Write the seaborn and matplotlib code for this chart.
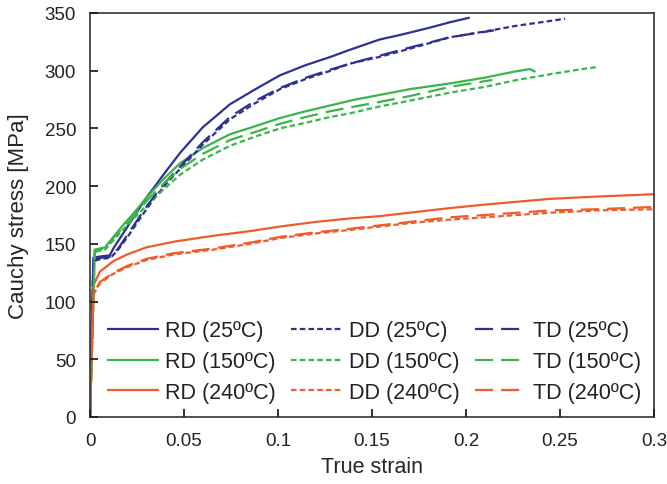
import matplotlib
matplotlib.use("Agg")
import matplotlib.pyplot as plt
import seaborn as sns
import pandas as pd

sns.set_style("ticks", {"xtick.direction": "in", "ytick.direction": "in"})
plt.rcParams['font.family'] = ['Liberation Sans', 'DejaVu Sans']
plt.rcParams['lines.scale_dashes'] = False
plt.rcParams.update({
    "xtick.major.size": 6, "ytick.major.size": 6,
    "xtick.major.width": 1.3, "ytick.major.width": 1.3,
    "xtick.major.pad": 11, "ytick.major.pad": 10,
    "xtick.color": "#222222", "ytick.color": "#222222",
    "xtick.labelsize": 13.5, "ytick.labelsize": 13.5,
    "xtick.bottom": True, "ytick.left": True,
    "xtick.top": False, "ytick.right": False,
    "xtick.direction": "in", "ytick.direction": "in",
    "axes.axisbelow": False,
})

# ---------------- data ----------------
rd25_x = [0, 0.0018, 0.005, 0.0105, 0.0124, 0.016, 0.02, 0.025, 0.03, 0.035, 0.04, 0.048, 0.06,
          0.0745, 0.088, 0.101, 0.115, 0.128, 0.138, 0.154, 0.165, 0.18, 0.1915, 0.202]
rd25_y = [0, 138, 139, 140, 146, 155, 165, 178, 190, 201, 212, 229, 251,
          271, 284, 296, 305, 312, 318, 327, 331, 337, 342, 346]

dd25_x = [0, 0.0018, 0.006, 0.011, 0.015, 0.02, 0.027, 0.034, 0.041, 0.048, 0.06, 0.0745, 0.088,
          0.101, 0.115, 0.128, 0.138, 0.154, 0.17, 0.1915, 0.21, 0.227, 0.24, 0.2527]
dd25_y = [0, 135, 137, 138, 145, 156, 173, 189, 203, 215, 236, 258, 272,
          284, 293, 300, 306, 312, 319, 329, 334, 339, 342, 345]

td25_x = [0, 0.0018, 0.006, 0.011, 0.015, 0.02, 0.027, 0.034, 0.041, 0.048, 0.06, 0.0745, 0.088,
          0.101, 0.115, 0.128, 0.138, 0.154, 0.17, 0.1915, 0.215]
td25_y = [0, 136, 138, 139, 146, 158, 175, 191, 205, 217, 238, 260, 274,
          285, 294, 301, 306, 313, 320, 329, 335]

rd150_x = [0, 0.0025, 0.008, 0.0124, 0.018, 0.024, 0.030, 0.039, 0.048, 0.06, 0.0745, 0.088,
           0.101, 0.115, 0.128, 0.141, 0.154, 0.17, 0.1915, 0.21, 0.225, 0.234, 0.237]
rd150_y = [0, 145, 147, 156, 167, 178, 190, 206, 220, 233, 245, 252,
           259, 265, 270, 275, 279, 284, 289, 294, 299, 301.5, 299]

dd150_x = [0, 0.0025, 0.008, 0.0124, 0.018, 0.024, 0.030, 0.039, 0.048, 0.06, 0.0745, 0.088,
           0.101, 0.115, 0.128, 0.138, 0.154, 0.17, 0.1915, 0.21, 0.227, 0.245, 0.26, 0.269]
dd150_y = [0, 143, 145, 153, 163, 173, 183, 197, 210, 223, 235, 243,
           250, 255, 260, 263, 269, 274, 281, 286, 292, 297, 301, 303]

td150_x = [0, 0.0025, 0.008, 0.0124, 0.018, 0.024, 0.030, 0.039, 0.048, 0.06, 0.0745, 0.088,
           0.101, 0.115, 0.128, 0.141, 0.154, 0.17, 0.1915, 0.214]
td150_y = [0, 144, 146, 155, 165, 175, 187, 202, 215, 228, 240, 247,
           254, 260, 265, 269, 273, 278, 286, 292]

rd240_x = [0, 0.0018, 0.0053, 0.0124, 0.02, 0.03, 0.045, 0.0656, 0.085, 0.101, 0.12, 0.138,
           0.154, 0.17, 0.1915, 0.21, 0.2447, 0.27, 0.3]
rd240_y = [0, 114, 126, 135, 141, 147, 152, 157, 161, 165, 169, 172,
           174, 177, 181, 184, 189, 191, 193]

dd240_x = [0, 0.0018, 0.0053, 0.0124, 0.02, 0.03, 0.045, 0.0656, 0.085, 0.101, 0.12, 0.138,
           0.154, 0.17, 0.1915, 0.21, 0.2447, 0.27, 0.3]
dd240_y = [0, 106, 116, 124, 130, 136, 141, 145, 150, 155, 159, 162,
           165, 168, 171, 173, 177, 179, 180]

td240_x = [0, 0.0018, 0.0053, 0.0124, 0.02, 0.03, 0.045, 0.0656, 0.085, 0.101, 0.12, 0.138,
           0.154, 0.17, 0.1915, 0.21, 0.2447, 0.27, 0.3]
td240_y = [0, 107, 117, 125, 131, 137, 142, 146, 151, 156, 160, 163,
           166, 169, 173, 175, 179, 180, 182]

x_ticks = [0, 0.05, 0.1, 0.15, 0.2, 0.25, 0.3]
x_tick_labels = ["0", "0.05", "0.1", "0.15", "0.2", "0.25", "0.3"]
y_ticks = [0, 50, 100, 150, 200, 250, 300, 350]

BLUE = "#2e3192"
GREEN = "#39b54a"
RED = "#f15a29"

SOLID = (0, ())
SHORT = (0, (4.0, 2.3))
LONG = (0, (13.0, 5.8))

series = [
    ("RD (25ºC)", rd25_x, rd25_y, BLUE, SOLID),
    ("RD (150ºC)", rd150_x, rd150_y, GREEN, SOLID),
    ("RD (240ºC)", rd240_x, rd240_y, RED, SOLID),
    ("DD (25ºC)", dd25_x, dd25_y, BLUE, SHORT),
    ("DD (150ºC)", dd150_x, dd150_y, GREEN, SHORT),
    ("DD (240ºC)", dd240_x, dd240_y, RED, SHORT),
    ("TD (25ºC)", td25_x, td25_y, BLUE, LONG),
    ("TD (150ºC)", td150_x, td150_y, GREEN, LONG),
    ("TD (240ºC)", td240_x, td240_y, RED, LONG),
]

fig = plt.figure(figsize=(6.67, 4.85), dpi=100)
ax = fig.add_axes([90 / 667, 67 / 485, 564 / 667, 404 / 485])

for label, xs, ys, col, ls in series:
    df = pd.DataFrame({"strain": xs, "stress": ys})
    sns.lineplot(data=df, x="strain", y="stress", ax=ax, color=col, linestyle=ls,
                 linewidth=1.6, sort=False, estimator=None, label=label)

ax.set_xlim(0, 0.3)
ax.set_ylim(0, 350)
ax.set_xticks(x_ticks, x_tick_labels)
ax.set_yticks(y_ticks)
ax.set_xlabel("True strain", fontsize=15.5, labelpad=5)
ax.set_ylabel("Cauchy stress [MPa]", fontsize=16, labelpad=11)
ax.set_axisbelow(False)
for s in ax.spines.values():
    s.set_color("#333333")
    s.set_linewidth(1.2)
ax.tick_params(axis="both", which="major", direction="in", length=6, width=1.3,
               color="#222222", bottom=True, left=True)

handles, labels = ax.get_legend_handles_labels()
leg = ax.legend(handles, labels, ncol=3, loc="lower left", bbox_to_anchor=(0.03, 0.035),
                frameon=False, fontsize=15.5, handlelength=2.4, handletextpad=0.3,
                columnspacing=0.7, labelspacing=0.45, borderaxespad=0, borderpad=0)
for t in leg.get_texts():
    t.set_color("#222222")

fig.savefig("out.png", dpi=100)
